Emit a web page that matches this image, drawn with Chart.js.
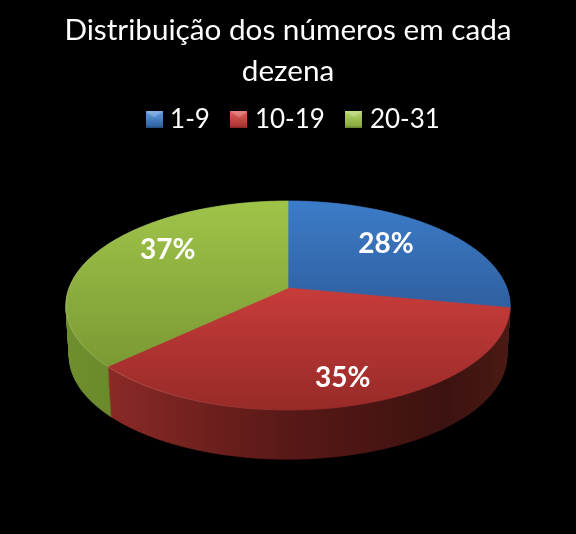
<!DOCTYPE html>
<html>
<head>
<meta charset="utf-8">
<style>html,body{margin:0;padding:0;background:#000}canvas{display:block}</style>
<script src="https://cdn.jsdelivr.net/npm/chart.js@4"></script>
</head>
<body>
<canvas id="c" width="576" height="534"></canvas>
<script>
const categories = ['1-9', '10-19', '20-31'];
const values = [28, 35, 37];
const titleLines = ['Distribuição dos números em cada', 'dezena'];
const topColors = [['#3c7cc8', '#2f5f9f'], ['#c73c3a', '#972a28'], ['#9fc449', '#7b9a34']];
const legendColors = [['#5f9ce2', '#2b5c9c'], ['#e0605c', '#a52d2b'], ['#b4d666', '#82a338']];
const labelReach = [0.67, 0.8, 0.71];
const labelTurn = [-4.4, 0.4, 10.9];

const P = {cx: 288, cy: 288, A: 218.9, B: 101.6, k: 0.1675, depth: 51, shrink: 0.015};
function project(u, v, d) {
  const w = 1 - P.k * v, s = 1 - P.shrink * d / P.depth;
  return [P.cx + P.A * u / w * s, P.cy + P.B * v / w * s + d];
}
const canvas = document.getElementById('c');
const c2 = canvas.getContext('2d');
function grad(x0, y0, x1, y1, a, b) {
  const g = c2.createLinearGradient(x0, y0, x1, y1);
  g.addColorStop(0, a); g.addColorStop(1, b);
  return g;
}
const topFill = [grad(0, 201, 0, 310, ...topColors[0]), grad(0, 288, 0, 410, ...topColors[1]), grad(0, 201, 0, 365, ...topColors[2])];
const redWall = c2.createLinearGradient(104, 0, 505, 0);
redWall.addColorStop(0, '#8c2a27'); redWall.addColorStop(0.45, '#591917'); redWall.addColorStop(0.85, '#3c1210'); redWall.addColorStop(1, '#4a1913');
const wallFill = [grad(288, 0, 510, 0, '#2a5690', '#2a5690'), redWall, grad(66, 0, 108, 0, '#6f8f2e', '#6b8a2c')];

function legendSwatch(pair) {
  const s = document.createElement('canvas');
  s.width = 17; s.height = 17;
  const g = s.getContext('2d');
  const f = g.createLinearGradient(0, 0, 0, 17);
  f.addColorStop(0, pair[0]); f.addColorStop(1, pair[1]);
  g.fillStyle = f; g.fillRect(0, 0, 17, 17);
  g.fillStyle = 'rgba(255,255,255,0.22)';
  g.beginPath(); g.moveTo(0, 0); g.lineTo(17, 0); g.lineTo(8.5, 6); g.closePath(); g.fill();
  g.fillStyle = 'rgba(0,0,0,0.18)';
  g.fillRect(0, 15, 17, 2);
  return s;
}
const swatches = legendColors.map(legendSwatch);

function drawProjected(ctx, el, d, fill) {
  const R = el.outerRadius, ox = el.x, oy = el.y;
  const m = (x, y) => project((x - ox) / R, (y - oy) / R, d);
  const lt = ctx.lineTo.bind(ctx), mt = ctx.moveTo.bind(ctx);
  ctx.lineTo = (x, y) => lt(...m(x, y));
  ctx.moveTo = (x, y) => mt(...m(x, y));
  ctx.arc = (x, y, r, a0, a1, ccw) => {
    const n = Math.max(2, Math.ceil(Math.abs(a1 - a0) * 60));
    for (let i = 0; i <= n; i++) {
      const a = a0 + (a1 - a0) * i / n;
      lt(...m(x + r * Math.cos(a), y + r * Math.sin(a)));
    }
  };
  const saved = el.options;
  el.options = Object.create(saved, {
    backgroundColor: {value: fill}, borderColor: {value: fill}, borderWidth: {value: 0.7}
  });
  el.draw(ctx);
  el.options = saved;
  delete ctx.lineTo; delete ctx.moveTo; delete ctx.arc;
}
const pie3d = {
  id: 'pie3d',
  afterLayout(chart) {
    chart.legend.left += 15;
  },
  beforeDatasetsDraw(chart) {
    const ctx = chart.ctx, arcs = chart.getDatasetMeta(0).data;
    for (let d = P.depth; d >= 1; d--) arcs.forEach((el, i) => drawProjected(ctx, el, d, wallFill[i]));
    arcs.forEach((el, i) => drawProjected(ctx, el, 0, topFill[i]));
    // light rim on the front edge
    const rim = grad(66, 0, 300, 0, 'rgba(255,255,255,0.2)', 'rgba(255,255,255,0)');
    ctx.save();
    ctx.strokeStyle = rim; ctx.lineWidth = 1;
    [1, 2].forEach(i => {
      const el = arcs[i];
      ctx.beginPath();
      for (let t = 0; t <= 80; t++) {
        const a = el.startAngle + (el.endAngle - el.startAngle) * t / 80;
        const p = project(Math.cos(a), Math.sin(a), 0);
        if (t) ctx.lineTo(...p); else ctx.moveTo(...p);
      }
      ctx.stroke();
    });
    ctx.restore();
    // percentage labels
    const total = values.reduce((a, b) => a + b, 0);
    ctx.save();
    ctx.fillStyle = '#fff';
    ctx.font = 'bold 28px Lato';
    ctx.textAlign = 'center'; ctx.textBaseline = 'middle';
    arcs.forEach((el, i) => {
      const a = (el.startAngle + el.endAngle) / 2 + labelTurn[i] * Math.PI / 180;
      const p = project(labelReach[i] * Math.cos(a), labelReach[i] * Math.sin(a), 0);
      ctx.fillText(Math.round(values[i] / total * 100) + '%', p[0], p[1]);
    });
    ctx.restore();
    return false;
  }
};
new Chart(canvas, {
  type: 'pie',
  data: {labels: categories, datasets: [{data: values, backgroundColor: topColors.map(c => c[0]), borderWidth: 0}]},
  plugins: [pie3d],
  options: {
    responsive: false,
    animation: false,
    layout: {padding: {top: 10, bottom: 8, left: 8, right: 8}},
    plugins: {
      tooltip: {enabled: false},
      title: {display: true, text: titleLines, color: '#fff', font: {family: 'Lato', size: 29.7, weight: 'normal', lineHeight: 1.38}, padding: {top: 0, bottom: -11}},
      legend: {
        position: 'top',
        labels: {
          color: '#fff', font: {family: 'Lato', size: 26}, usePointStyle: true, pointStyleWidth: 6, boxHeight: 17, padding: 26,
          generateLabels(chart) {
            const base = Chart.overrides.doughnut.plugins.legend.labels.generateLabels(chart);
            return base.map((it, i) => Object.assign(it, {pointStyle: swatches[i], lineWidth: 0, strokeStyle: 'transparent'}));
          }
        }
      }
    }
  }
});
</script>
</body>
</html>
